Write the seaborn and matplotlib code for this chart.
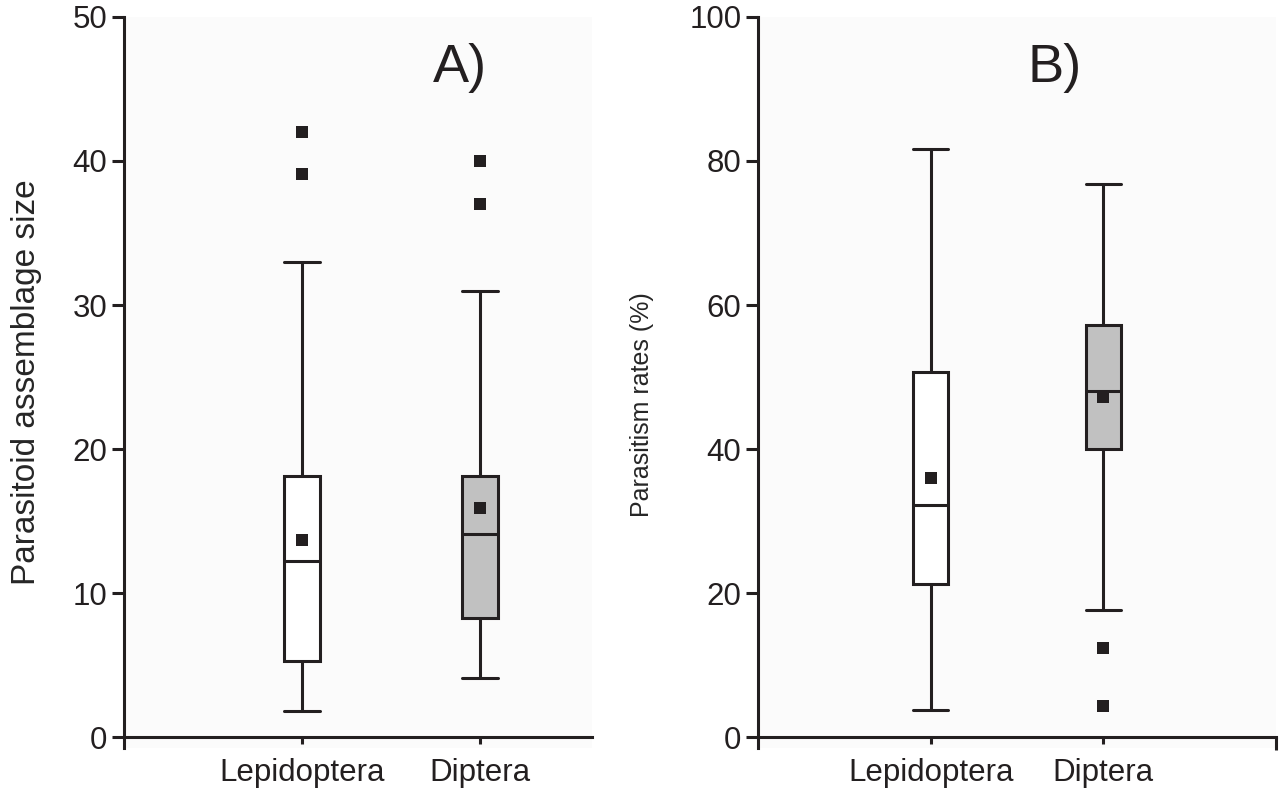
import matplotlib
matplotlib.use("Agg")
import matplotlib.pyplot as plt
import numpy as np
import pandas as pd
import seaborn as sns

groups = ["Lepidoptera", "Diptera"]

# summaries: low whisker, Q1, median, Q3, high whisker
size_lep = [1.8, 5.3, 12.2, 18.1, 33.0]
size_dip = [4.1, 8.3, 14.1, 18.1, 31.0]
size_means = [13.7, 15.9]
size_out_groups = ["Lepidoptera", "Lepidoptera", "Diptera", "Diptera"]
size_out_values = [42.0, 39.1, 40.0, 37.0]

rate_lep = [3.7, 21.2, 32.2, 50.7, 81.7]
rate_dip = [17.6, 40.0, 48.0, 57.2, 76.8]
rate_means = [36.0, 47.2]
rate_out_groups = ["Diptera", "Diptera"]
rate_out_values = [12.4, 4.3]

INK = "#231f20"
fills = {"Lepidoptera": "#ffffff", "Diptera": "#c1c1c1"}

sns.set_style("ticks")
plt.rcParams["font.family"] = ["Liberation Sans", "DejaVu Sans"]
plt.rcParams["axes.edgecolor"] = INK
plt.rcParams["text.color"] = INK
plt.rcParams["xtick.color"] = INK
plt.rcParams["ytick.color"] = INK


def draw_panel(ax, lep, dip, means, out_groups, out_values, ymax, ylabel,
               letter, letter_x, label_x, label_y, label_size, xmax, end_tick=False):
    df = pd.DataFrame({"group": [groups[0]] * len(lep) + [groups[1]] * len(dip),
                       "value": lep + dip})
    sns.boxplot(data=df, x="group", y="value", hue="group", order=groups,
                hue_order=groups, palette=fills, saturation=1, width=0.2,
                whis=(0, 100), linecolor=INK, linewidth=2.2, legend=False, ax=ax)
    # caps as wide as the boxes
    for c in ax.containers:
        for cap in getattr(c, "caps", []):
            mid = np.mean(cap.get_xdata())
            cap.set_xdata([mid - 0.1, mid + 0.1])
    sns.stripplot(x=out_groups, y=out_values, order=groups, jitter=False,
                  marker="s", color=INK, size=8.5, linewidth=0, ax=ax, zorder=5)
    sns.stripplot(x=groups, y=means, order=groups, jitter=False,
                  marker="s", color=INK, size=8.5, linewidth=0, ax=ax, zorder=5)

    ax.set_facecolor("#fbfbfb")
    ax.set_ylim(-ymax * 0.0152, ymax)
    ax.set_yticks(np.linspace(0, ymax, 6))
    ax.set_xlim(-1.0, xmax)
    sns.despine(ax=ax)
    ax.spines["bottom"].set_position(("data", 0))
    for s in ("left", "bottom"):
        ax.spines[s].set_linewidth(2.2)
    ax.tick_params(axis="y", length=9, width=2.2, pad=3, labelsize=22.5)
    ax.tick_params(axis="x", length=5, width=2.2, pad=10, labelsize=22.5)
    if end_tick:
        ax.set_xticks([xmax], minor=True)
        ax.tick_params(axis="x", which="minor", length=9, width=2.2)
    ax.set_xlabel("")
    ax.set_ylabel(ylabel, fontsize=label_size)
    ax.yaxis.set_label_coords(label_x, label_y)
    ax.text(letter_x, 0.911, letter, transform=ax.transAxes, ha="center",
            va="baseline", fontsize=39)


fig = plt.figure(figsize=(12.8, 7.93), dpi=100)
ax1 = fig.add_axes([0.0969, 0.0567, 0.3656, 0.9219])
ax2 = fig.add_axes([0.5922, 0.0567, 0.4047, 0.9219])

draw_panel(ax1, size_lep, size_dip, size_means, size_out_groups, size_out_values,
           50, "Parasitoid assemblage size", "A)", 0.718, -0.175, 0.5, 24, 1.63)
draw_panel(ax2, rate_lep, rate_dip, rate_means, rate_out_groups, rate_out_values,
           100, "Parasitism rates (%)", "B)", 0.573, -0.2, 0.47, 18, 2.0, end_tick=True)

fig.savefig("out.png", dpi=100)
